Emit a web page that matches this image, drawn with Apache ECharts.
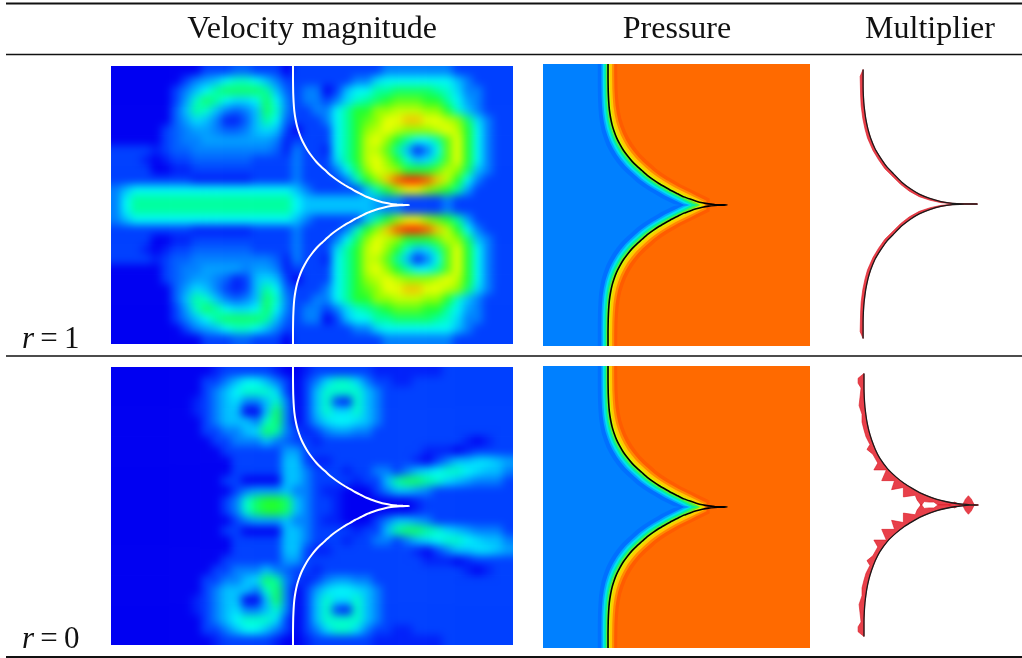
<!DOCTYPE html>
<html><head><meta charset="utf-8">
<style>
html,body{margin:0;padding:0;background:#fff}
#main{position:absolute;left:0;top:0;width:1022px;height:658px}
canvas[data-zr-dom-id="zr_0"]{filter:blur(4.5px);clip-path:path("M111 66H513V344H111Z M111 367H513V645H111Z")}
</style>
<script src="https://cdn.jsdelivr.net/npm/echarts@6/dist/echarts.min.js"></script>
</head><body><div id="main"></div>
<script>
const headers = ['Velocity magnitude','Pressure','Multiplier'];
const rowLabels = ['1','0'];
const curveX = [0,0,0.2,0.6,1.3,2.5,4,6,8.5,11.5,15,19,23.5,28,33,38,44,50,56,62,68,74,80,86,92,98,104,110,116];
const curveY = [139,125,112,103,94,86,79,72.5,66,60,54,48.5,43,38.5,34,29.5,25,21,17.5,14,11,8,5.8,3.8,2.2,1.1,0.5,0.15,0];
const frontX = [0,0,0.2,0.6,1.3,2.5,4,6,8.5,11.5,15,19,23.5,28,33,38,44,50,56,62,68,74,80,85,90];
const frontY = [139,125,112,103,94,86,79,72.5,66,60,54,48.5,43,38.5,34,29.5,25,21,17.5,14,11,8,5,2.5,0];
const bandOffsets = [9,6,4,2,0,-2,-3.5,-5,-6.5,-10];
const bandColors = ['#ff5c00','#ff8a00','#ffc800','#d8f000','#50f040','#00f0a0','#00e0f0','#00a8ff','#0070ff','#0080ff'];
const multCurveR1X = [0,0,0.3,1,2.7,5,7.7,12,17.7,24,31,39,47.7,57,67.7,79,91,103,116];
const multCurveR1Y = [137,120,110,100,87,76,67,56.5,47,38,30.7,22.5,15.7,10,5.7,2.5,0.7,0.2,0];
const multCurveR0X = [0,0,0.3,1,2.7,5,7.7,11.5,16,24,32.7,41,49,57,66,74,82.7,92,100,108,116];
const multCurveR0Y = [135,120,110,100,87,76,67,57,48,37,28.6,22,17,12.5,8.6,5.8,3.6,1.8,0.8,0.2,0];
const multR1X = [0,-3,-2.5,-2,-0.3,2,4.5,10,15.7,22,29.5,38,47,57,68,79,88];
const multR1Y = [137,130,110,100,87,76,67,54.5,45,36,28.5,20,13,7.5,3.8,1.4,0.5];
const multR0X = [0,-6,-6,-3,-5,-2,-2,0,2,6,3,9,14,10,22.7,18,31,28,40,40,52,54,57,58,61,66,71,75,100];
const multR0Y = [135,130,125,120,102,93,85,77,70,62,57,52,43,36,36,25,25,15.7,18,8.3,10,5,1,-1,3.5,3,3,0,0];
const lensX = [[86,92,98,92],[100,103,106,109,112,109,106,103]];
const lensY = [[0,3,0,-3],[0,6,9.5,6,0,-6,-9.5,-6]];
const velocityR1 = [
[0,0,0,0,0,0,0,0,0,1,1,1,1.5,1.5,1,1,1,0,1,1,1,1,1,1,1,1,1,2,2,2,2,2,2,2,1,1,1,1,1,1],
[0,0,0,0,0,0,0,1,2,2.5,3,4,4.5,4.5,4,3,2,1,1,1,1,1,1,1,2,2,3.5,4,4,4,4,4,4,4,3,2,1,1,1,1],
[0,0,0,0,0,0,1,2,3,4,5,5.5,5.5,5.5,5.5,5,3,1.5,1,2,2,0,1,3,4,4,5,5,5.5,5.5,5.5,5.5,5,4.5,3.5,2,2,1,1,1],
[0,0,0,0,0,0,1,2.5,4.5,5.5,5,4,3.5,3.5,4,5.5,4,2,1,2,2,1,2,3.5,4.5,5,5.5,6,6.5,6.5,6.5,6,6,5,4,2.5,2,1,1,1],
[0,0,0,0,0,0,1.5,3,5,4.5,3,2,1.5,2,3,5.5,4.5,2,1,1,2,2,4,5,6,6,7,7,7.5,7.5,7.5,7,7,6,4.5,3,2,1,1,1],
[0,0,0,0,0,0,1.5,2.5,3.5,3,2,0.5,0.5,1.5,3,5,4,1.5,1,1,1,2,4,5,6,6.5,7,8,8,8.5,8.5,8,8,7.5,7,5.5,3.5,2,1,1],
[0,0,0,0,0,1,1.5,2,2.5,2.5,2,1.5,1.5,2,3,3.5,3,1,0,1,1,1,4,5,6,7,7.5,8,7.5,7,7,7,7.5,8,7.5,6,4,2,1,1],
[0,0,0,0,0,1,1.5,2,2,2.5,2.5,2.5,2.5,2.5,2.5,2.5,2,0.5,1,1,1,1,4,5,6,7.5,8,7,6,5,4,4,5,6.5,8,6,4,2,1,1],
[1,1,1,1,0.5,1,1.5,1.5,2,2,2,2,2,2,2,2,1.5,0.5,2,1,1,0.5,4,5,6,7.5,7.5,6.5,5,3,0.5,2,4,6.5,8,6,4,2,1,1],
[1,1,1,0.5,0,0.5,1,1,1.5,1.5,1.5,1.5,1.5,1.5,1,1,1,1,2,1,1,1,3.5,5,6,7.5,8,7,6,4.5,3,3.5,5,6.5,8,6,4,2,1,1],
[1,1,1,1,0,0,0.5,0.5,1,1,1,1,1,1,1,1,1,1,2,1,1,1,2,4,5.5,7,8,7.5,7,6,6,6,6.5,7.5,7,5.5,3,2,1,1],
[1,1,1,1,1,1,1,1,0.5,0.5,0.5,0.5,0.5,0.5,1,1,1,1,2,1,1,1,1,2,4.5,6,7,8.5,9.5,10,10,9.5,8.5,7.5,6,4,2,1,1,1],
[2,3,4,4,4,4,4,4,4,4,4,4,4,4,4,4,4,4,3,2,1,1,1,1,1,3,5,6,7,8,8,7,6.5,6,5,2.5,1,1,1,1],
[2,4,5,5,5,5,5,5,5,5,5,5,5,5,5,5,5,5,4,3,3,3,3,3,3,3,2.5,2,2,1,1,1,1,2,1,1,1,1,1,1],
[2,4,5,5,5,5,5,5,5,5,5,5,5,5,5,5,5,5,4,3,3,3,3,3,3,3,2.5,2,2,1,1,1,1,2,1,1,1,1,1,1],
[2,3,4,4,4,4,4,4,4,4,4,4,4,4,4,4,4,4,3,2,1,1,1,1,1,3,5,6,7,8,8,7,6.5,6,5,2.5,1,1,1,1],
[1,1,1,1,1,1,1,1,0.5,0.5,0.5,0.5,0.5,0.5,1,1,1,1,2,1,1,1,1,2,4.5,6,7,8.5,9.5,10,10,9.5,8.5,7.5,6,4,2,1,1,1],
[1,1,1,1,0,0,0.5,0.5,1,1,1,1,1,1,1,1,1,1,2,1,1,1,2,4,5.5,7,8,7.5,7,6,6,6,6.5,7.5,7,5.5,3,2,1,1],
[1,1,1,0.5,0,0.5,1,1,1.5,1.5,1.5,1.5,1.5,1.5,1,1,1,1,2,1,1,1,3.5,5,6,7.5,8,7,6,4.5,3,3.5,5,6.5,8,6,4,2,1,1],
[1,1,1,1,0.5,1,1.5,1.5,2,2,2,2,2,2,2,2,1.5,0.5,2,1,1,0.5,4,5,6,7.5,7.5,6.5,5,3,0.5,2,4,6.5,8,6,4,2,1,1],
[0,0,0,0,0,1,1.5,2,2,2.5,2.5,2.5,2.5,2,2.5,2.5,2,0.5,1,1,1,1,4,5,6,7.5,8,7,6,5,4,4,5,6.5,8,6,4,2,1,1],
[0,0,0,0,0,1,1.5,2,2.5,2.5,2,1.5,0.5,1,3,3.5,3,1,0,1,1,1,4,5,6,7,7.5,8,7.5,7,7,7,7.5,8,7.5,6,4,2,1,1],
[0,0,0,0,0,0,1.5,2.5,3.5,3,2,1,0.5,1,3,5,4,1.5,1,1,1,2,4,5,6,6.5,7,8,8,8.5,8.5,8,8,7.5,7,5.5,3.5,2,1,1],
[0,0,0,0,0,0,1.5,3,5,4.5,3,2,1.5,2,3,5.5,4.5,2,1,1,2,2,4,5,6,6,7,7,7.5,7.5,7.5,7,7,6,4.5,3,2,1,1,1],
[0,0,0,0,0,0,1,2.5,4.5,5.5,5,4,3.5,3.5,4,5.5,4,2,1,2,2,1,2,3.5,4.5,5,5.5,6,6.5,6.5,6.5,6,6,5,4,2.5,2,1,1,1],
[0,0,0,0,0,0,1,2,3,4,5,5.5,5.5,5.5,5.5,5,3,1.5,1,2,2,0,1,3,4,4,5,5,5.5,5.5,5.5,5.5,5,4.5,3.5,2,2,1,1,1],
[0,0,0,0,0,0,0,1,2,2.5,3,4,4.5,4.5,4,3,2,1,1,1,1,1,1,1,2,2,3.5,4,4,4,4,4,4,4,3,2,1,1,1,1],
[0,0,0,0,0,0,0,0,0,1,1,1,1.5,1.5,1,1,1,0,1,1,1,1,1,1,1,1,1,2,2,2,2,2,2,2,1,1,1,1,1,1]
];
const velocityR0 = [
[0,0,0,0,0,0,0,0,0,0,0.5,1,1,1,1,1,0.5,0,0,0.5,1,1,1,1,1,1,0.5,0.5,0.5,0.5,0.5,0.5,0.5,1,1,1,1,1,1,1],
[0,0,0,0,0,0,0,0,0,1,1,2,3,4,4,3,2,1,0,1,2,3.5,4.5,4.5,3.5,2,1,1,0.5,0.5,1,1,1,1,1,1,1,1,1,1],
[0,0,0,0,0,0,0,0,0,1,2,3,4,4.5,4.5,4.5,3.5,1,0,1,3,4.5,4.5,4.5,4.5,3,2,1,1,1,1,1,1,1,1,1,1,1,1,1],
[0,0,0,0,0,0,0,0,0.5,1,2,3,3.5,2,2,3,4.5,2,0,1,3,4.5,1,0.5,4.5,3,2,1,1,1,1,1,1,1,1,1,1,1,1,1],
[0,0,0,0,0,0,0,0,0.5,1,2,3,3,0,0,3,5.5,2,0,1,3,4.5,3.5,3.5,4.5,3,2,1,1,1,1,1,1,1,1,1,1,1,1,1],
[0,0,0,0,0,0,0,0,0,1,2,3,3,3,2,4.5,5.5,2,0,1,2.5,3.5,4,4,3.5,3,2,1,1,1,1,1,1,1,1,1,1,1,1,1],
[0,0,0,0,0,0,0,0,0,1,1,2,2,3,3.5,5.5,5,2,1,0.5,1,2,2.5,2.5,2,2,1,1,1,1,1,1,1,1,1,1,1,1,1,1],
[0,0,0,0,0,0,0,0,0,0,1,1,2,2,2,3,2,1.5,1,1,0.5,1,1,1,1,1,1,1,1,1,1,1,1,1,1,0.5,0,0.5,1,1],
[0,0,0,0,0,0,0,0,0,0,0,1,1,1,1,1,1,2.5,2.5,1,1,1,1,1,1,1,1,1,1,1,1,0.5,0.5,0.5,0,0.5,1,1,1,1],
[0,0,0,0,0,0,0,0,0,0,0,0,1,1,1,1,1,3,3,1,0.5,0.5,1,1,1,1,1,1,1,1,0.5,0,1,2,3,3,3.5,3.5,3,2.5],
[0,0,0,0,0,0,0,0,0,0,0,0,1,1,1,1,1,3,3,2,1,1,1,0.5,1,1,2,2,1,2,3,3.5,4,4.5,4.5,4,3.5,3,3,2],
[0,0,0,0,0,0,0,0,0,0,0,1,1,0,0,0,0,3,3,2,1,1,1,1,0.5,1,1,3,5,5.5,5.5,5,4.5,3.5,3,2.5,2,2,2,1],
[0,0,0,0,0,0,0,0,0,0,0,0,1,2,2.5,2.5,2.5,3,2,2,1,0.5,0.5,0,0,0,1,2,3,3,2.5,2,1,1,1,1,1,1,1,1],
[0,0,0,0,0,0,0,0,0,0,0,1,2,4.5,5.5,6,6,5.5,3,2,1,1,0.5,0,0,0,0,0,0,0,0.5,1,1,1,1,1,1,1,1,1],
[0,0,0,0,0,0,0,0,0,0,0,1,2,4.5,5.5,6,6,5.5,3,2,1,1,0.5,0,0,0,0,0,0,0,0.5,1,1,1,1,1,1,1,1,1],
[0,0,0,0,0,0,0,0,0,0,0,0,1,2,2.5,2.5,2.5,3,2,2,1,0.5,0.5,0,0,0,1,2,3,3,2.5,2,1,1,1,1,1,1,1,1],
[0,0,0,0,0,0,0,0,0,0,0,1,1,0,0,0,0,3,3,2,1,1,1,1,0.5,1,1,3,5,5.5,5.5,5,4.5,3.5,3,2.5,2,2,2,1],
[0,0,0,0,0,0,0,0,0,0,0,0,1,1,1,1,1,3,3,2,1,1,1,0.5,1,1,2,2,1,2,3,3.5,4,4.5,4.5,4,3.5,3,3,2],
[0,0,0,0,0,0,0,0,0,0,0,0,1,1,1,1,1,3,3,1,0.5,0.5,1,1,1,1,1,1,1,1,0.5,0,1,2,3,3,3.5,3.5,3,2.5],
[0,0,0,0,0,0,0,0,0,0,0,1,1,1,1,1,1,2.5,2.5,1,1,1,1,1,1,1,1,1,1,1,1,0.5,0.5,0.5,0,0.5,1,1,1,1],
[0,0,0,0,0,0,0,0,0,0,1,1,2,2,2,3,2,1.5,1,1,0.5,1,1,1,1,1,1,1,1,1,1,1,1,1,1,0.5,0,0.5,1,1],
[0,0,0,0,0,0,0,0,0,1,1,2,2,3,3.5,5.5,5,2,1,0.5,1,2,2.5,2.5,2,2,1,1,1,1,1,1,1,1,1,1,1,1,1,1],
[0,0,0,0,0,0,0,0,0,1,2,3,3,3,2,4.5,5.5,2,0,1,2.5,3.5,4,4,3.5,3,2,1,1,1,1,1,1,1,1,1,1,1,1,1],
[0,0,0,0,0,0,0,0,0.5,1,2,3,3,0,0,3,5.5,2,0,1,3,4.5,3.5,3.5,4.5,3,2,1,1,1,1,1,1,1,1,1,1,1,1,1],
[0,0,0,0,0,0,0,0,0.5,1,2,3,3.5,2,2,3,4.5,2,0,1,3,4.5,1,0.5,4.5,3,2,1,1,1,1,1,1,1,1,1,1,1,1,1],
[0,0,0,0,0,0,0,0,0,1,2,3,4,4.5,4.5,4.5,3.5,1,0,1,3,4.5,4.5,4.5,4.5,3,2,1,1,1,1,1,1,1,1,1,1,1,1,1],
[0,0,0,0,0,0,0,0,0,1,1,2,3,4,4,3,2,1,0,1,2,3.5,4.5,4.5,3.5,2,1,1,0.5,0.5,1,1,1,1,1,1,1,1,1,1],
[0,0,0,0,0,0,0,0,0,0,0.5,1,1,1,1,1,0.5,0,0,0.5,1,1,1,1,1,1,0.5,0.5,0.5,0.5,0.5,0.5,0.5,1,1,1,1,1,1,1]
];
const heatColors = ['#0000f2','#0040ff','#0080ff','#00c0ff','#00f8f8','#00ffa0','#20ff30','#90ff00','#e8ff00','#ff9000','#ff2a00'];

const chart = echarts.init(document.getElementById('main'));
const zip = (xs, ys) => xs.map((x, i) => [x, ys[i]]);
const mirror = pts => pts.map(p => [p[0], -p[1]]);
const closed = up => up.concat(mirror(up.slice(0, -1).reverse()));
const upper = zip(curveX, curveY);
const grids = [], xAxes = [], yAxes = [], series = [];
function addGrid(left, top, width, height, x, y) {
  const i = grids.length;
  grids.push({left, top, width, height, containLabel: false});
  xAxes.push(Object.assign({gridIndex: i, show: false}, x));
  yAxes.push(Object.assign({gridIndex: i, show: false}, y));
  return i;
}
function poly(g, pts, fill, stroke) {
  series.push({type: 'custom', coordinateSystem: 'cartesian2d', xAxisIndex: g, yAxisIndex: g, zlevel: 1, clip: true, silent: true,
    data: [[0, 0]],
    renderItem: (p, api) => ({type: 'polygon', shape: {points: pts.map(q => api.coord(q))},
      style: {fill, stroke: stroke || null, lineWidth: stroke ? 0.6 : 0}})});
}
function curveLine(g, pts, color, width) {
  series.push({type: 'line', xAxisIndex: g, yAxisIndex: g, zlevel: 1, data: closed(pts), smooth: 0.15, symbol: 'none', silent: true,
    lineStyle: {color, width}});
}
const idx = n => Array.from({length: n}, (_, i) => String(i));
function velocityPanel(values, top) {
  const cw = 402 / 40, ch = 278 / 28;
  const g = addGrid(111 - cw, top - ch, 402 + 2 * cw, 278 + 2 * ch,
    {type: 'category', data: idx(42)}, {type: 'category', data: idx(30), inverse: true});
  const cells = [];
  for (let r = -1; r <= 28; r++) for (let c = -1; c <= 40; c++) {
    const rr = Math.min(27, Math.max(0, r)), cc = Math.min(39, Math.max(0, c));
    cells.push([c + 1, r + 1, values[rr][cc]]);
  }
  series.push({type: 'heatmap', xAxisIndex: g, yAxisIndex: g, data: cells, silent: true, progressive: 0, itemStyle: {borderWidth: 0}});
  const o = addGrid(111, top, 402, 278, {type: 'value', min: -182, max: 220}, {type: 'value', min: -139, max: 139});
  curveLine(o, upper, '#ffffff', 2);
}
function pressurePanel(top) {
  const g = addGrid(543, top, 267, 282, {type: 'value', min: -63.4, max: 196.9}, {type: 'value', min: -139, max: 139});
  poly(g, [[-63.4, 139], [196.9, 139], [196.9, -139], [-63.4, -139]], '#ff6a00');
  bandOffsets.forEach((o, k) => {
    const up = zip(frontX, frontY).map(p => [p[0] + o, Math.max(0, p[1] + 0.7 * o)]);
    const pts = [[-80, 170], [up[0][0], 170]].concat(up,
      mirror(up.slice().reverse()), [[up[0][0], -170], [-80, -170]]);
    poly(g, pts, bandColors[k]);
  });
  curveLine(g, upper, '#000000', 1.6);
}
function multiplierPanel(left, top, w, h, curve, outer, lenses) {
  const g = addGrid(left, top, w, h, {type: 'value', min: -20, max: 120}, {type: 'value', min: -139, max: 139});
  const back = curve.slice().reverse();
  poly(g, outer.concat(back), '#e8404a', '#d81420');
  poly(g, mirror(outer).concat(mirror(back)), '#e8404a', '#d81420');
  lenses.forEach(l => poly(g, l, '#e8404a', '#d81420'));
  curveLine(g, curve, '#1a1a1a', 1.3);
}
velocityPanel(velocityR1, 66);
velocityPanel(velocityR0, 367);
pressurePanel(64);
pressurePanel(366);
multiplierPanel(843.4, 67.5, 140 * 0.985, 273, zip(multCurveR1X, multCurveR1Y), zip(multR1X, multR1Y), []);
multiplierPanel(844.3, 369.5, 140 * 0.985, 271, zip(multCurveR0X, multCurveR0Y), zip(multR0X, multR0Y), lensX.map((xs, i) => zip(xs, lensY[i])));

const serif = '"Liberation Serif", serif';
const text = (x, y, t, size) => ({type: 'text', zlevel: 1, x, y, style: {text: t, font: size + 'px ' + serif, fill: '#111', textAlign: 'center', textVerticalAlign: 'bottom'}});
const rule = (y, w) => ({type: 'line', zlevel: 1, shape: {x1: 6, y1: y, x2: 1022, y2: y}, style: {stroke: '#111', lineWidth: w}});
const rowText = (y, v) => ({type: 'text', zlevel: 1, x: 22, y, style: {
  text: '{i|r}{n|\u2009=\u2009' + v + '}', textVerticalAlign: 'bottom',
  rich: {i: {font: 'italic 31px ' + serif, fill: '#111'}, n: {font: '31px ' + serif, fill: '#111'}}}});
chart.setOption({
  animation: false,
  backgroundColor: 'transparent',
  grid: grids, xAxis: xAxes, yAxis: yAxes, series,
  visualMap: {type: 'continuous', show: false, min: 0, max: 10, dimension: 2, seriesIndex: [0, 2],
    inRange: {color: heatColors}},
  graphic: {elements: [
    rule(3.5, 2.2), rule(54.5, 1.4), rule(356, 1.4), rule(657, 2),
    text(312, 46, headers[0], 32), text(677, 46, headers[1], 32), text(930, 46, headers[2], 32),
    rowText(355, rowLabels[0]), rowText(655, rowLabels[1])
  ]}
});
</script></body></html>
